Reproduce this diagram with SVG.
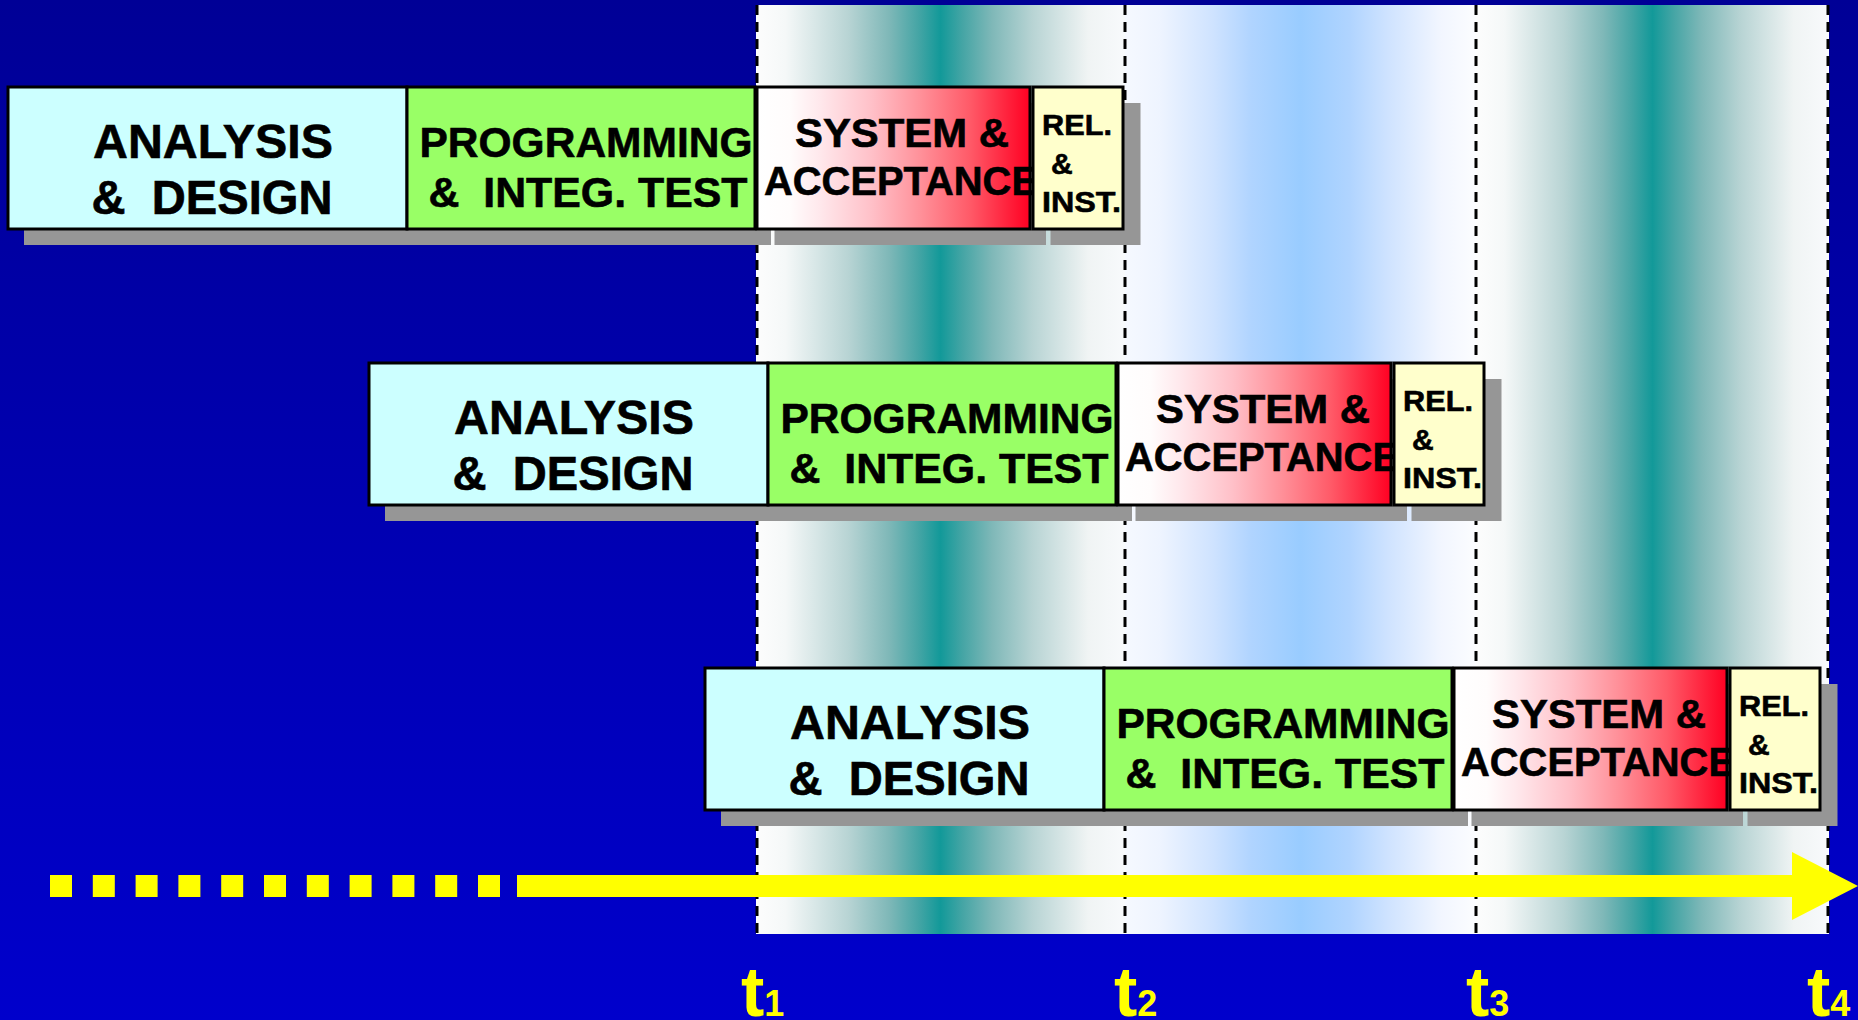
<svg xmlns="http://www.w3.org/2000/svg" width="1858" height="1020" viewBox="0 0 1858 1020">
  <defs>
    <linearGradient id="bg" x1="0" y1="0" x2="0" y2="1">
      <stop offset="0" stop-color="#000096"/>
      <stop offset="1" stop-color="#0000CC"/>
    </linearGradient>
    <linearGradient id="teal" x1="0" y1="0" x2="1" y2="0">
      <stop offset="0" stop-color="#FDFDFD"/>
      <stop offset="0.08" stop-color="#F5F8F8"/>
      <stop offset="0.25" stop-color="#B8D4D4"/>
      <stop offset="0.36" stop-color="#7FB8B8"/>
      <stop offset="0.44" stop-color="#45A5A5"/>
      <stop offset="0.5" stop-color="#129999"/>
      <stop offset="0.56" stop-color="#45A5A5"/>
      <stop offset="0.64" stop-color="#7FB8B8"/>
      <stop offset="0.75" stop-color="#B8D4D4"/>
      <stop offset="0.9" stop-color="#F0F4F4"/>
      <stop offset="1" stop-color="#F8FAFC"/>
    </linearGradient>
    <linearGradient id="sky" x1="0" y1="0" x2="1" y2="0">
      <stop offset="0" stop-color="#F6F9FF"/>
      <stop offset="0.1" stop-color="#EEF4FF"/>
      <stop offset="0.25" stop-color="#CFE3FF"/>
      <stop offset="0.36" stop-color="#B0D4FF"/>
      <stop offset="0.5" stop-color="#99CCFF"/>
      <stop offset="0.64" stop-color="#B0D4FF"/>
      <stop offset="0.75" stop-color="#CFE3FF"/>
      <stop offset="0.9" stop-color="#F2F6FF"/>
      <stop offset="1" stop-color="#FCFDFF"/>
    </linearGradient>
    <linearGradient id="red" x1="0" y1="0" x2="1" y2="0">
      <stop offset="0" stop-color="#FFFFFF"/>
      <stop offset="0.12" stop-color="#FFFCFC"/>
      <stop offset="0.23" stop-color="#FFE8EC"/>
      <stop offset="0.42" stop-color="#FFC0C8"/>
      <stop offset="0.6" stop-color="#FF9099"/>
      <stop offset="0.78" stop-color="#FF5A68"/>
      <stop offset="1" stop-color="#FF0022"/>
    </linearGradient>
    <style>
      .box { stroke: #000; stroke-width: 3; }
      .shadow { fill: #969696; }
      .ad { fill: #CCFFFF; }
      .pi { fill: #99FF66; }
      .sa { fill: url(#red); }
      .ri { fill: #FFFFCC; }
      .lbl { font-family: "Liberation Sans", Arial, sans-serif; font-weight: bold; fill: #000; stroke: #000; stroke-width: 0.6; }
      .big { font-size: 47.5px; text-anchor: middle; }
      .mid { font-size: 42.5px; text-anchor: middle; }
      .sys { font-size: 41px; text-anchor: middle; }
      .rel { font-size: 30px; }
      .tick { stroke: #000; stroke-width: 3; stroke-dasharray: 10 7; fill: none; }
      .tl { fill: #FFFF00; }
      .tlab { font-family: "Liberation Sans", Arial, sans-serif; font-weight: bold; fill: #FFFF00; font-size: 70px; }
      .sub { font-size: 36px; }
    </style>
  </defs>

  <!-- backdrop -->
  <rect x="0" y="0" width="1858" height="1020" fill="url(#bg)"/>

  <!-- shaded time periods -->
  <g id="periods">
    <rect x="756" y="5" width="369" height="929" fill="url(#teal)"/>
    <rect x="1125" y="5" width="351" height="929" fill="url(#sky)"/>
    <rect x="1476" y="5" width="353" height="929" fill="url(#teal)"/>
    <line class="tick" x1="757" y1="5" x2="757" y2="934"/>
    <line class="tick" x1="1125" y1="5" x2="1125" y2="934"/>
    <line class="tick" x1="1476" y1="5" x2="1476" y2="934"/>
    <line class="tick" x1="1828" y1="5" x2="1828" y2="934"/>
  </g>

  <!-- release 1 -->
  <g id="release1" transform="translate(8,87)">
    <g id="r1-analysis">
      <rect class="shadow" x="16" y="16" width="399" height="142"/>
      <rect class="box ad" x="0" y="0" width="399" height="142"/>
      <text class="lbl big" x="205" y="71" textLength="240" lengthAdjust="spacingAndGlyphs">ANALYSIS</text>
      <text class="lbl big" x="204" y="127" textLength="241" lengthAdjust="spacingAndGlyphs" xml:space="preserve">&amp;  DESIGN</text>
    </g>
    <g id="r1-programming">
      <rect class="shadow" x="415" y="16" width="348" height="142"/>
      <rect class="box pi" x="399" y="0" width="348" height="142"/>
      <text class="lbl mid" x="578" y="70" textLength="333" lengthAdjust="spacingAndGlyphs">PROGRAMMING</text>
      <text class="lbl mid" x="580" y="120" textLength="319" lengthAdjust="spacingAndGlyphs" xml:space="preserve">&amp;  INTEG. TEST</text>
    </g>
    <g id="r1-system">
      <rect class="shadow" x="766.5" y="16" width="271.5" height="142"/>
      <rect class="box sa" x="749" y="0" width="273" height="142"/>
      <text class="lbl sys" x="894" y="60" textLength="214" lengthAdjust="spacingAndGlyphs">SYSTEM &amp;</text>
      <text class="lbl sys" x="893" y="108" textLength="274" lengthAdjust="spacingAndGlyphs">ACCEPTANCE</text>
    </g>
    <g id="r1-release">
      <rect class="shadow" x="1042.5" y="16" width="90" height="142"/>
      <rect class="box ri" x="1025" y="0" width="90" height="142"/>
      <text class="lbl rel" x="1034" y="48" textLength="70" lengthAdjust="spacingAndGlyphs">REL.</text>
      <text class="lbl rel" x="1043" y="87">&amp;</text>
      <text class="lbl rel" x="1034" y="125" textLength="79" lengthAdjust="spacingAndGlyphs">INST.</text>
    </g>
  </g>

  <!-- release 2 -->
  <g id="release2" transform="translate(369,363)">
    <g id="r2-analysis">
      <rect class="shadow" x="16" y="16" width="399" height="142"/>
      <rect class="box ad" x="0" y="0" width="399" height="142"/>
      <text class="lbl big" x="205" y="71" textLength="240" lengthAdjust="spacingAndGlyphs">ANALYSIS</text>
      <text class="lbl big" x="204" y="127" textLength="241" lengthAdjust="spacingAndGlyphs" xml:space="preserve">&amp;  DESIGN</text>
    </g>
    <g id="r2-programming">
      <rect class="shadow" x="415" y="16" width="348" height="142"/>
      <rect class="box pi" x="399" y="0" width="348" height="142"/>
      <text class="lbl mid" x="578" y="70" textLength="333" lengthAdjust="spacingAndGlyphs">PROGRAMMING</text>
      <text class="lbl mid" x="580" y="120" textLength="319" lengthAdjust="spacingAndGlyphs" xml:space="preserve">&amp;  INTEG. TEST</text>
    </g>
    <g id="r2-system">
      <rect class="shadow" x="766.5" y="16" width="271.5" height="142"/>
      <rect class="box sa" x="749" y="0" width="273" height="142"/>
      <text class="lbl sys" x="894" y="60" textLength="214" lengthAdjust="spacingAndGlyphs">SYSTEM &amp;</text>
      <text class="lbl sys" x="893" y="108" textLength="274" lengthAdjust="spacingAndGlyphs">ACCEPTANCE</text>
    </g>
    <g id="r2-release">
      <rect class="shadow" x="1042.5" y="16" width="90" height="142"/>
      <rect class="box ri" x="1025" y="0" width="90" height="142"/>
      <text class="lbl rel" x="1034" y="48" textLength="70" lengthAdjust="spacingAndGlyphs">REL.</text>
      <text class="lbl rel" x="1043" y="87">&amp;</text>
      <text class="lbl rel" x="1034" y="125" textLength="79" lengthAdjust="spacingAndGlyphs">INST.</text>
    </g>
  </g>

  <!-- release 3 -->
  <g id="release3" transform="translate(705,668)">
    <g id="r3-analysis">
      <rect class="shadow" x="16" y="16" width="399" height="142"/>
      <rect class="box ad" x="0" y="0" width="399" height="142"/>
      <text class="lbl big" x="205" y="71" textLength="240" lengthAdjust="spacingAndGlyphs">ANALYSIS</text>
      <text class="lbl big" x="204" y="127" textLength="241" lengthAdjust="spacingAndGlyphs" xml:space="preserve">&amp;  DESIGN</text>
    </g>
    <g id="r3-programming">
      <rect class="shadow" x="415" y="16" width="348" height="142"/>
      <rect class="box pi" x="399" y="0" width="348" height="142"/>
      <text class="lbl mid" x="578" y="70" textLength="333" lengthAdjust="spacingAndGlyphs">PROGRAMMING</text>
      <text class="lbl mid" x="580" y="120" textLength="319" lengthAdjust="spacingAndGlyphs" xml:space="preserve">&amp;  INTEG. TEST</text>
    </g>
    <g id="r3-system">
      <rect class="shadow" x="766.5" y="16" width="271.5" height="142"/>
      <rect class="box sa" x="749" y="0" width="273" height="142"/>
      <text class="lbl sys" x="894" y="60" textLength="214" lengthAdjust="spacingAndGlyphs">SYSTEM &amp;</text>
      <text class="lbl sys" x="893" y="108" textLength="274" lengthAdjust="spacingAndGlyphs">ACCEPTANCE</text>
    </g>
    <g id="r3-release">
      <rect class="shadow" x="1042.5" y="16" width="90" height="142"/>
      <rect class="box ri" x="1025" y="0" width="90" height="142"/>
      <text class="lbl rel" x="1034" y="48" textLength="70" lengthAdjust="spacingAndGlyphs">REL.</text>
      <text class="lbl rel" x="1043" y="87">&amp;</text>
      <text class="lbl rel" x="1034" y="125" textLength="79" lengthAdjust="spacingAndGlyphs">INST.</text>
    </g>
  </g>

  <!-- time axis: dotted lead-in, solid shaft, arrowhead -->
  <g id="connectors">
    <g class="tl">
      <rect x="50" y="875" width="22" height="22"/>
      <rect x="92.8" y="875" width="22" height="22"/>
      <rect x="135.6" y="875" width="22" height="22"/>
      <rect x="178.4" y="875" width="22" height="22"/>
      <rect x="221.2" y="875" width="22" height="22"/>
      <rect x="264" y="875" width="22" height="22"/>
      <rect x="306.8" y="875" width="22" height="22"/>
      <rect x="349.6" y="875" width="22" height="22"/>
      <rect x="392.4" y="875" width="22" height="22"/>
      <rect x="435.2" y="875" width="22" height="22"/>
      <rect x="478" y="875" width="22" height="22"/>
      <rect x="517" y="875" width="1276" height="22"/>
      <polygon points="1792,852 1858,886 1792,920"/>
    </g>
  </g>

  <!-- time markers -->
  <g id="markers">
    <text class="tlab" x="741" y="1016">t<tspan class="sub">1</tspan></text>
    <text class="tlab" x="1114" y="1016">t<tspan class="sub">2</tspan></text>
    <text class="tlab" x="1466" y="1016">t<tspan class="sub">3</tspan></text>
    <text class="tlab" x="1807" y="1016">t<tspan class="sub">4</tspan></text>
  </g>
</svg>
